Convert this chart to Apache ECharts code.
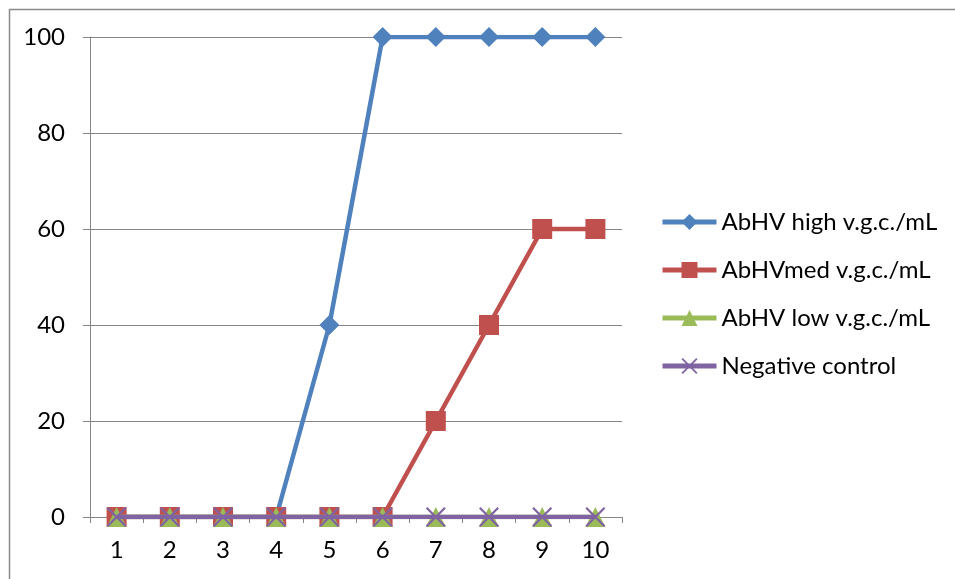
<!DOCTYPE html>
<html>
<head>
<meta charset="utf-8">
<script src="https://cdn.jsdelivr.net/npm/echarts@6/dist/echarts.min.js"></script>
<style>html,body{margin:0;padding:0;background:#fff}#c{width:955px;height:579px}</style>
</head>
<body>
<div id="c"></div>
<script>
const categories = ['1','2','3','4','5','6','7','8','9','10'];
const seriesNames = ['AbHV high v.g.c./mL','AbHVmed v.g.c./mL','AbHV low v.g.c./mL','Negative control'];
const highValues = [0,0,0,0,40,100,100,100,100,100];
const medValues = [0,0,0,0,0,0,20,40,60,60];
const lowValues = [0,0,0,0,0,0,0,0,0,0];
const negValues = [0,0,0,0,0,0,0,0,0,0];
const yTicks = [0,20,40,60,80,100];

const FONT = 'Lato';
const colors = ['#4F81BD','#C0504D','#9BBB59','#8064A2'];
const crossPath = 'path://M0,0.8L0.8,0L5,4.2L9.2,0L10,0.8L5.8,5L10,9.2L9.2,10L5,5.8L0.8,10L0,9.2L4.2,5Z';
const symbols = ['diamond','rect','triangle',crossPath];
const sizes = [20,20,20,20];
const data = [highValues, medValues, lowValues, negValues];

const chart = echarts.init(document.getElementById('c'));
chart.setOption({
  animation: false,
  color: colors,
  graphic: [{
    type: 'rect', left: 7, top: 7, silent: true,
    shape: {x: 0, y: 0, width: 1000, height: 1000},
    style: {fill: 'none', stroke: '#8a8a8a', lineWidth: 1.5}
  }],
  grid: {left: 90, right: 333, top: 37, bottom: 62},
  legend: {
    orient: 'vertical', left: 660, top: 210, padding: 0,
    itemWidth: 54, itemHeight: 20, itemGap: 24,
    lineStyle: {width: 5},
    textStyle: {fontFamily: FONT, fontSize: 24, lineHeight: 24, color: '#000'},
    data: seriesNames
  },
  xAxis: {
    type: 'category', data: categories, boundaryGap: true,
    axisLine: {lineStyle: {color: '#868686', width: 1}},
    axisTick: {show: true, length: 6, lineStyle: {color: '#868686'}, alignWithLabel: false},
    axisLabel: {fontFamily: FONT, fontSize: 24, color: '#000', margin: 21},
    splitLine: {show: false}
  },
  yAxis: {
    type: 'value', min: yTicks[0], max: yTicks[yTicks.length-1], interval: 20,
    axisLine: {show: true, lineStyle: {color: '#868686', width: 1}},
    axisTick: {show: true, length: 7, lineStyle: {color: '#868686'}},
    axisLabel: {fontFamily: FONT, fontSize: 24, color: '#000', margin: 25},
    splitLine: {show: true, lineStyle: {color: '#868686', width: 1}}
  },
  series: seriesNames.map((n, i) => ({
    name: n, type: 'line', data: data[i],
    symbol: symbols[i], symbolSize: sizes[i], showAllSymbol: true,
    lineStyle: {width: 4.5, color: colors[i]},
    itemStyle: {color: colors[i]},
    z: 2 + i
  }))
});
</script>
</body>
</html>
